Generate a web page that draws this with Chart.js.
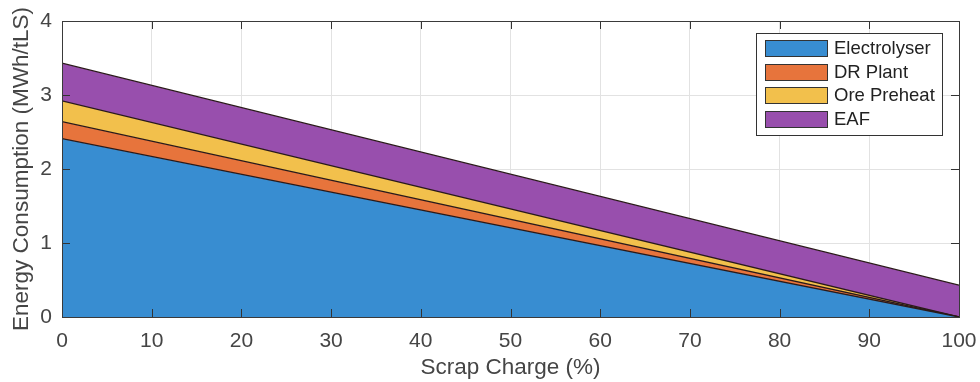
<!DOCTYPE html>
<html>
<head>
<meta charset="utf-8">
<script src="https://cdn.jsdelivr.net/npm/chart.js@4/dist/chart.umd.min.js"></script>
<style>
  html, body { margin: 0; padding: 0; background: #fff; }
  #wrap { width: 980px; height: 382px; }
</style>
</head>
<body>
<div id="wrap"><canvas id="areaChart" width="980" height="382"></canvas></div>
<script>
// DATA
const scrapCharge = [0, 100];
const electrolyser = [2.41, 0];
const drPlant = [0.23, 0];
const orePreheat = [0.28, 0];
const eaf = [0.51, 0.43];
const xTicks = [0, 10, 20, 30, 40, 50, 60, 70, 80, 90, 100];
const yTicks = [0, 1, 2, 3, 4];

const seriesNames = ["Electrolyser", "DR Plant", "Ore Preheat", "EAF"];
const seriesColors = ["#388dd1", "#e7743c", "#f2c04c", "#984fad"];
const seriesValues = [electrolyser, drPlant, orePreheat, eaf];

const TEXT = "#454545";
const FONT = "'Liberation Sans', Arial, Helvetica, sans-serif";

// legend + box + inner tick marks, MATLAB style
const matlabFrame = {
  id: "matlabFrame",
  afterDraw(chart) {
    const { ctx, chartArea: a, scales } = chart;
    ctx.save();
    // tick marks inside the axes
    ctx.strokeStyle = "#333";
    ctx.lineWidth = 1;
    ctx.beginPath();
    xTicks.forEach(v => {
      const x = Math.round(scales.x.getPixelForValue(v)) + 0.5;
      ctx.moveTo(x, a.bottom); ctx.lineTo(x, a.bottom - 8);
      ctx.moveTo(x, a.top); ctx.lineTo(x, a.top + 8);
    });
    yTicks.forEach(v => {
      const y = Math.round(scales.y.getPixelForValue(v)) + 0.5;
      ctx.moveTo(a.left, y); ctx.lineTo(a.left + 8, y);
      ctx.moveTo(a.right, y); ctx.lineTo(a.right - 8, y);
    });
    ctx.stroke();
    // axes box
    ctx.strokeStyle = "#3a3a3a";
    ctx.strokeRect(Math.round(a.left) + 0.5, Math.round(a.top) + 0.5,
      Math.round(a.right - a.left), Math.round(a.bottom - a.top));

    // legend
    const lx = 756.5, ly = 33.5, lw = 186, lh = 102;
    ctx.fillStyle = "#fff";
    ctx.fillRect(lx, ly, lw, lh);
    ctx.strokeStyle = "#333";
    ctx.strokeRect(lx, ly, lw, lh);
    ctx.font = "18.5px " + FONT;
    ctx.textBaseline = "middle";
    chart.data.datasets.forEach((ds, i) => {
      const cy = 48 + i * 23.7;
      ctx.fillStyle = ds.backgroundColor;
      ctx.fillRect(765.5, Math.round(cy - 8) + 0.5, 62, 16);
      ctx.strokeStyle = "#333";
      ctx.strokeRect(765.5, Math.round(cy - 8) + 0.5, 62, 16);
      ctx.fillStyle = "#222";
      ctx.fillText(ds.label, 834, cy + 1);
    });
    ctx.restore();
  }
};

const ctx = document.getElementById("areaChart").getContext("2d");
const chart = new Chart(ctx, {
  type: "line",
  data: {
    datasets: seriesNames.map((name, i) => ({
      label: name,
      data: scrapCharge.map((x, j) => ({ x: x, y: seriesValues[i][j] })),
      backgroundColor: seriesColors[i],
      borderColor: "#2a1a1a",
      borderWidth: 1.3,
      fill: i === 0 ? "origin" : "-1",
      pointRadius: 0,
      tension: 0
    }))
  },
  options: {
    animation: false,
    responsive: false,
    layout: { padding: { top: 21, right: 21, left: 0, bottom: 0 } },
    plugins: { legend: { display: false }, tooltip: { enabled: false } },
    scales: {
      x: {
        type: "linear",
        min: 0, max: 100,
        afterBuildTicks: s => { s.ticks = xTicks.map(v => ({ value: v })); },
        afterFit: s => { s.height = 65; s.paddingLeft = 0; s.paddingRight = 0; },
        grid: { color: "#e2e2e2", drawTicks: false },
        border: { display: false },
        ticks: { color: TEXT, font: { family: FONT, size: 21 }, padding: 12, maxRotation: 0 },
        title: { display: true, text: "Scrap Charge (%)", color: TEXT,
                 font: { family: FONT, size: 22.5 }, padding: { top: 0, bottom: 1 } }
      },
      y: {
        stacked: true,
        min: 0, max: 4,
        afterBuildTicks: s => { s.ticks = yTicks.map(v => ({ value: v })); },
        afterFit: s => { s.width = 62; s.paddingTop = 0; s.paddingBottom = 0; },
        grid: { color: "#e2e2e2", drawTicks: false },
        border: { display: false },
        ticks: { color: TEXT, font: { family: FONT, size: 21 }, padding: 10 },
        title: { display: true, text: "Energy Consumption (MWh/tLS)", color: TEXT,
                 font: { family: FONT, size: 22.5 }, padding: { top: 8, bottom: 0 } }
      }
    }
  },
  plugins: [matlabFrame]
});
</script>
</body>
</html>
